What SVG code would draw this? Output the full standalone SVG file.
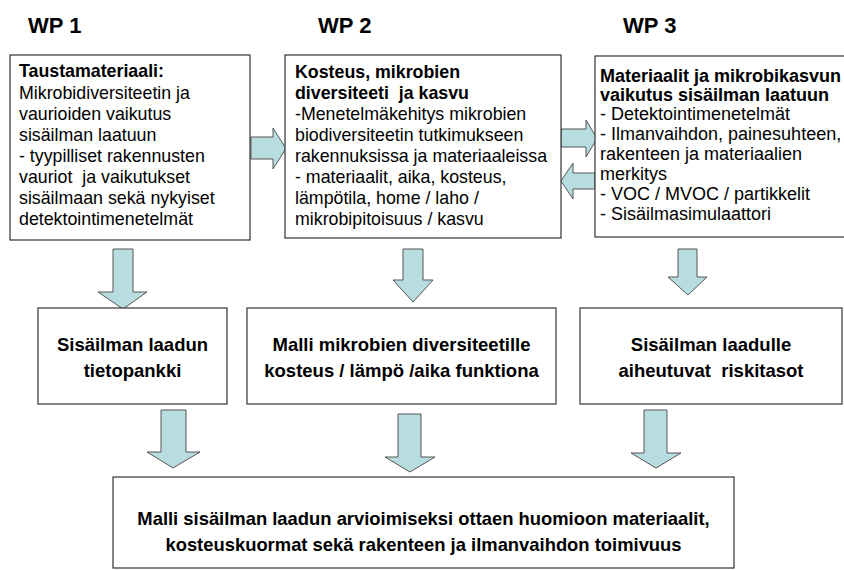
<svg xmlns="http://www.w3.org/2000/svg" width="844" height="570" viewBox="0 0 844 570">
<style>
.box{fill:#fff;stroke:#333;stroke-width:1.2}
.arr{fill:#b8dde0;stroke:#555;stroke-width:1}
.wp{font-family:"Liberation Sans",Arial,sans-serif;font-weight:bold;font-size:22px;fill:#000}
.t{font-family:"Liberation Sans",Arial,sans-serif;font-size:17.8px;fill:#000}
.t3{font-family:"Liberation Sans",Arial,sans-serif;font-size:18px;fill:#000}
.b{font-weight:bold}
.c{font-family:"Liberation Sans",Arial,sans-serif;font-weight:bold;font-size:18.5px;fill:#000;text-anchor:middle}
</style>
<rect width="844" height="570" fill="#fff"/>
<text class="wp" x="28" y="33">WP 1</text>
<text class="wp" x="318" y="33">WP 2</text>
<text class="wp" x="623" y="33">WP 3</text>

<g id="connectors">
<path class="arr" d="M251,137 L273,137 L273,128 L286,148.5 L273,169 L273,159 L251,159 Z"/>
<path class="arr" d="M561,129 L586,129 L586,120 L597,138.5 L586,157 L586,147 L561,147 Z"/>
<path class="arr" d="M595,173 L573,173 L573,163 L561,181 L573,199 L573,189 L595,189 Z"/>
<path class="arr" d="M113,249 L133,249 L133,292 L147,292 L123,309 L98,292 L113,292 Z"/>
<path class="arr" d="M403,249 L423,249 L423,280 L433,280 L413,302 L393,280 L403,280 Z"/>
<path class="arr" d="M678,249 L697,249 L697,277 L707,277 L688,295 L668,277 L678,277 Z"/>
<path class="arr" d="M161,410 L186,410 L186,452 L200,452 L173,468 L147,452 L161,452 Z"/>
<path class="arr" d="M398,414 L421,414 L421,457 L435,457 L410,472 L385,457 L398,457 Z"/>
<path class="arr" d="M644,410 L667,410 L667,453 L681,453 L656,468 L631,453 L644,453 Z"/>
</g>

<g id="wp1">
<rect class="box" x="10" y="55" width="240" height="185"/>
<text class="t">
<tspan class="b" x="19" y="77">Taustamateriaali:</tspan>
<tspan x="19" y="99">Mikrobidiversiteetin ja</tspan>
<tspan x="19" y="120">vaurioiden vaikutus</tspan>
<tspan x="19" y="141">sisäilman laatuun</tspan>
<tspan x="19" y="162">- tyypilliset rakennusten</tspan>
<tspan x="19" y="183">vauriot&#160; ja vaikutukset</tspan>
<tspan x="19" y="204">sisäilmaan sekä nykyiset</tspan>
<tspan x="19" y="225">detektointimenetelmät</tspan>
</text>
</g>

<g id="wp2">
<rect class="box" x="285" y="55" width="276" height="183"/>
<text class="t">
<tspan class="b" x="295" y="78">Kosteus, mikrobien</tspan>
<tspan class="b" x="295" y="99">diversiteeti&#160; ja kasvu</tspan>
<tspan x="295" y="120">-Menetelmäkehitys mikrobien</tspan>
<tspan x="295" y="141">biodiversiteetin tutkimukseen</tspan>
<tspan x="295" y="162">rakennuksissa ja materiaaleissa</tspan>
<tspan x="295" y="183">- materiaalit, aika, kosteus,</tspan>
<tspan x="295" y="204">lämpötila, home / laho /</tspan>
<tspan x="295" y="225">mikrobipitoisuus / kasvu</tspan>
</text>
</g>

<g id="wp3">
<rect class="box" x="595" y="56" width="270" height="181"/>
<text class="t3">
<tspan class="b" x="600" y="82">Materiaalit ja mikrobikasvun</tspan>
<tspan class="b" x="600" y="101">vaikutus sisäilman laatuun</tspan>
<tspan x="600" y="120">- Detektointimenetelmät</tspan>
<tspan x="600" y="140">- Ilmanvaihdon, painesuhteen,</tspan>
<tspan x="600" y="160">rakenteen ja materiaalien</tspan>
<tspan x="600" y="180">merkitys</tspan>
<tspan x="600" y="200">- VOC / MVOC / partikkelit</tspan>
<tspan x="600" y="220">- Sisäilmasimulaattori</tspan>
</text>
</g>

<g id="tietopankki">
<rect class="box" x="38" y="308" width="189" height="96"/>
<text class="c"><tspan x="132.5" y="351">Sisäilman laadun</tspan><tspan x="132.5" y="377">tietopankki</tspan></text>
</g>

<g id="malli">
<rect class="box" x="247" y="308" width="309" height="96"/>
<text class="c"><tspan x="401.5" y="351">Malli mikrobien diversiteetille</tspan><tspan x="401.5" y="377">kosteus / lämpö /aika funktiona</tspan></text>
</g>

<g id="riskitasot">
<rect class="box" x="580" y="308" width="262" height="96"/>
<text class="c"><tspan x="711" y="351">Sisäilman laadulle</tspan><tspan x="711" y="377">aiheutuvat&#160; riskitasot</tspan></text>
</g>

<g id="kokonaismalli">
<rect class="box" x="113" y="477" width="621" height="91"/>
<text class="c" style="font-size:18.4px"><tspan x="423.5" y="525">Malli sisäilman laadun arvioimiseksi ottaen huomioon materiaalit,</tspan><tspan x="423.5" y="551">kosteuskuormat sekä rakenteen ja ilmanvaihdon toimivuus</tspan></text>
</g>
</svg>
